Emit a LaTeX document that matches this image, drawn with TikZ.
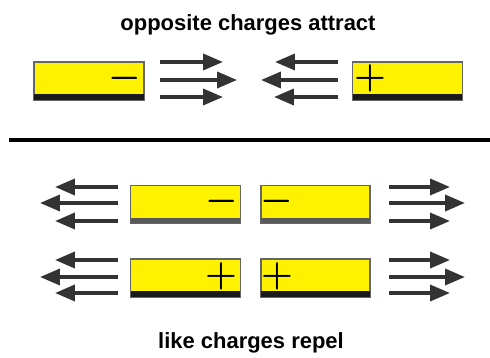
\documentclass[tikz,border=0pt]{standalone}
\usepackage{fontspec}
\setmainfont{Liberation Sans}
\usetikzlibrary{arrows.meta}

\tikzset{
  chargebox/.style={draw=black!60, fill=yellow, line width=0.7pt, inner sep=0, minimum width=2.2cm, minimum height=0.76cm},
  sign/.style={inner sep=0, font=\fontsize{20}{20}\selectfont\boldmath},
  force/.style={draw=black!80, line width=2.1pt, -{Triangle[length=0.4cm, width=0.32cm]}},
  caption/.style={inner sep=0, font=\fontsize{12.5}{14}\selectfont\bfseries}
}

\newcommand{\bottomband}[2]{\fill[#2] ([xshift=0.35pt, yshift=0.35pt]#1.south west) rectangle ([xshift=-0.35pt, yshift=0.13cm]#1.south east);}

\begin{document}
\begin{tikzpicture}[x=0.02cm, y=-0.02cm]
  \useasboundingbox (0,0) rectangle (490,358);

  % opposite charges
  \node[caption] (top) at (248,25) {opposite charges attract};

  \node[chargebox] (neg) at (89,81) {};
  \node[chargebox] (pos) at (407.5,81) {};
  \bottomband{neg}{black!90}
  \bottomband{pos}{black!90}
  \node[sign] (negsign) at (125,78) {$-$};
  \node[sign] (possign) at (370,78) {$+$};

  \foreach \n/\y/\t in {1/62/223, 2/80/237, 3/97/223}{
    \coordinate (at\n) at (160,\y);
    \coordinate (ah\n) at (\t,\y);
    \draw[force] (at\n) -- (ah\n);
  }
  \foreach \n/\y/\t in {1/62/275, 2/80/261, 3/97/274}{
    \coordinate (bt\n) at (338,\y);
    \coordinate (bh\n) at (\t,\y);
    \draw[force] (bt\n) -- (bh\n);
  }

  % separator
  \coordinate (sepl) at (9,140);
  \coordinate (sepr) at (490,140);
  \draw[line width=2.2pt] (sepl) -- (sepr);

  % like charges
  \node[chargebox] (negl) at (185.5,204.5) {};
  \node[chargebox, minimum width=2.18cm] (negr) at (315.5,204.5) {};
  \node[chargebox] (posl) at (185.5,278) {};
  \node[chargebox, minimum width=2.18cm] (posr) at (315.5,278) {};
  \bottomband{negl}{black!65}
  \bottomband{negr}{black!65}
  \bottomband{posl}{black!90}
  \bottomband{posr}{black!90}
  \node[sign] (neglsign) at (222,201) {$-$};
  \node[sign] (negrsign) at (277,201) {$-$};
  \node[sign] (poslsign) at (221,276) {$+$};
  \node[sign] (posrsign) at (277,276) {$+$};

  \foreach \r/\ya/\yb/\yc in {1/187/203/221, 2/260/277/293}{
    \foreach \n/\y/\dx in {1/\ya/0, 2/\yb/15, 3/\yc/0}{
      \coordinate (lt\r\n) at (118,\y);
      \coordinate (lh\r\n) at (55-\dx,\y);
      \draw[force] (lt\r\n) -- (lh\r\n);
      \coordinate (rt\r\n) at (389,\y);
      \coordinate (rh\r\n) at (450+\dx,\y);
      \draw[force] (rt\r\n) -- (rh\r\n);
    }
  }

  \node[caption] (bottom) at (251,343) {like charges repel};
\end{tikzpicture}
\end{document}
